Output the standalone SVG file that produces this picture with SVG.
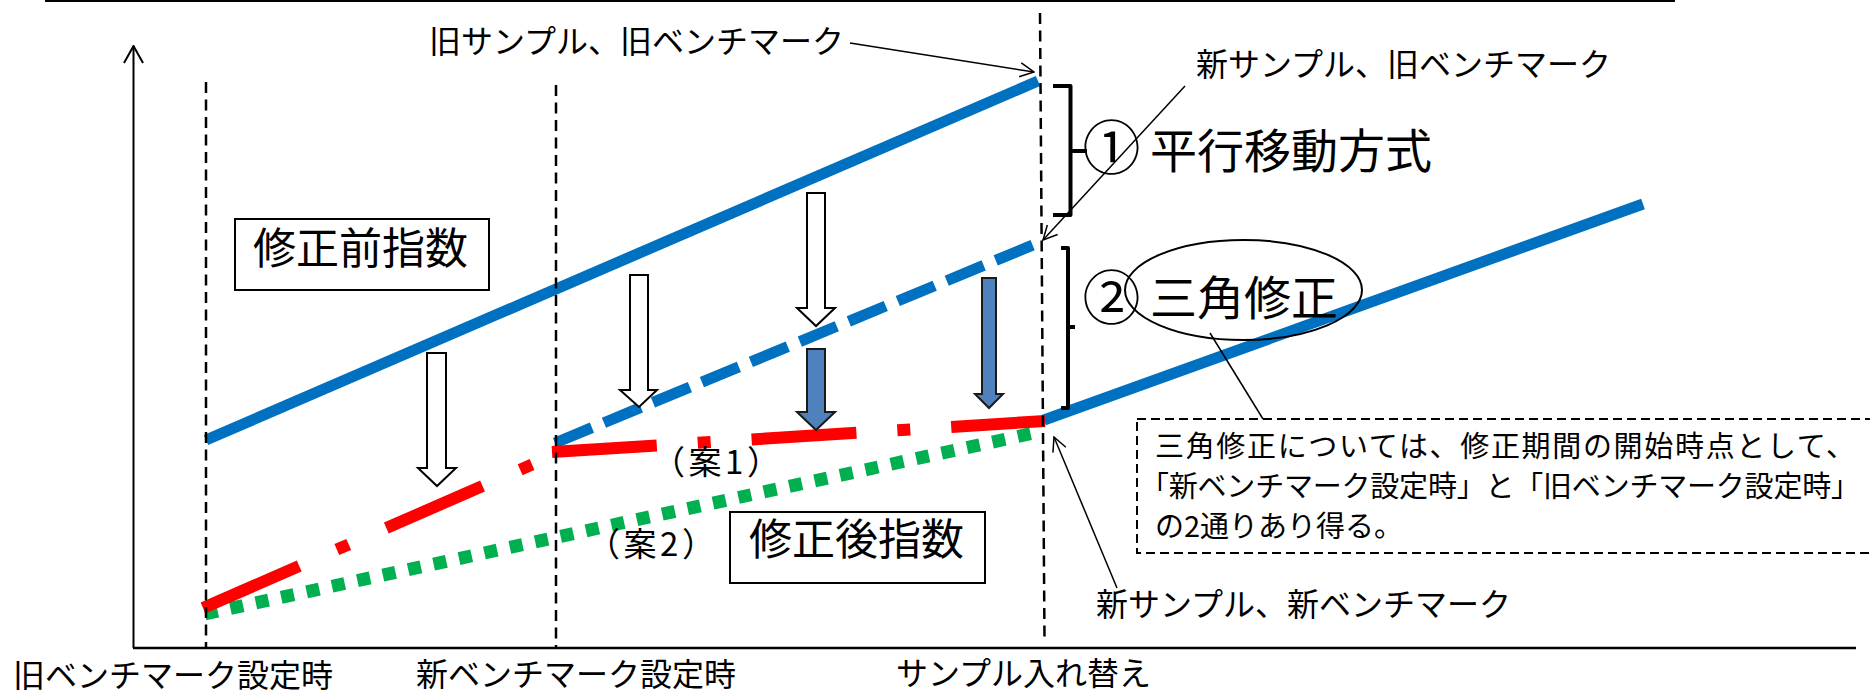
<svg xmlns="http://www.w3.org/2000/svg" width="1870" height="694" viewBox="0 0 1870 694">
<style>
.t{font-family:"Noto Sans CJK JP","Noto Sans",sans-serif;fill:#000}
.s{font-size:32px}
.m{font-size:43px}
.b{font-size:47px}
.n{font-size:29px}
.ax{stroke:#000;stroke-width:2;fill:none}
.vd{stroke:#000;stroke-width:2.5;stroke-dasharray:11 6.5;fill:none}
.ld{stroke:#000;stroke-width:1.5;fill:none}
.blue{stroke:#0070C0;stroke-width:11;fill:none}
.red{stroke:#FF0000;stroke-width:12;stroke-dasharray:105 41 13 41;fill:none}
.green{stroke:#00B050;stroke-width:13;stroke-dasharray:13 13;fill:none}
.box{fill:#fff;stroke:#000;stroke-width:2}
.ha{fill:#fff;stroke:#000;stroke-width:2}
.fa{fill:#4F81BD;stroke:#1a1a1a;stroke-width:2}
.br{stroke:#000;stroke-width:4;fill:none;stroke-linejoin:round}
</style>
<defs>
<marker id="open" viewBox="0 0 16 16" refX="15" refY="8" markerWidth="16" markerHeight="16" markerUnits="userSpaceOnUse" orient="auto">
<path d="M1,1 L15,8 L1,15" fill="none" stroke="#000" stroke-width="1.5"/>
</marker>
<marker id="axarrow" viewBox="0 0 19 21" refX="18" refY="10.5" markerWidth="19" markerHeight="21" markerUnits="userSpaceOnUse" orient="auto">
<path d="M1,1 L18,10.5 L1,20" fill="none" stroke="#000" stroke-width="2"/>
</marker>
</defs>

<g id="frame">
<line class="ax" x1="45" y1="1" x2="1675" y2="1"/>
<line class="ax" x1="133.5" y1="648" x2="133.5" y2="46" marker-end="url(#axarrow)"/>
<line x1="133" y1="648" x2="1856" y2="648" stroke="#000" stroke-width="2.5"/>
</g>

<g id="series">
<line class="blue" x1="206" y1="440" x2="1038" y2="81"/>
<line class="blue" x1="555" y1="443" x2="1033" y2="245" stroke-dasharray="40 13"/>
<line class="blue" x1="1044" y1="420" x2="1643" y2="204"/>
<line class="green" x1="205" y1="614" x2="1043" y2="431"/>
<line class="red" x1="203" y1="608" x2="556" y2="454"/>
<line class="red" x1="552" y1="452" x2="1045" y2="421"/>
</g>

<g id="guides">
<line class="vd" x1="206" y1="82" x2="206" y2="648"/>
<line class="vd" x1="556" y1="85" x2="556" y2="648"/>
<line class="vd" x1="1040" y1="13" x2="1044.5" y2="640"/>
</g>

<g id="shift-arrows">
<polygon class="ha" points="807,193 825,193 825,308 835,308 816,326 797,308 807,308"/>
<polygon class="ha" points="630,275 648,275 648,390 657,390 639,407 620,390 630,390"/>
<polygon class="ha" points="427,353 446,353 446,468 456,468 437,486 418,468 427,468"/>
<polygon class="fa" points="807,349 825,349 825,412 835,412 816,430 797,412 807,412"/>
<polygon class="fa" points="982,278 996,278 996,394 1003,394 989,408 975,394 982,394"/>
</g>

<g id="connectors">
<line class="ld" x1="850" y1="43" x2="1034" y2="72" marker-end="url(#open)"/>
<line class="ld" x1="1185" y1="86" x2="1043" y2="240" marker-end="url(#open)"/>
<line class="ld" x1="1117" y1="588" x2="1054" y2="437" marker-end="url(#open)"/>
<line class="ld" x1="1210" y1="333" x2="1263" y2="419"/>
</g>

<g id="bracket-1">
<path class="br" d="M1053,86 L1070.5,86 L1070.5,215 L1053,215 M1070.5,151 L1087,151"/>
</g>
<g id="bracket-2">
<path class="br" d="M1061,248 L1068,248 L1068,408 L1061,408 M1068,327 L1075,327"/>
</g>

<g id="label-old-old">
<text class="t s" x="429" y="53">旧サンプル、旧ベンチマーク</text>
</g>
<g id="label-new-old">
<text class="t s" x="1196" y="76">新サンプル、旧ベンチマーク</text>
</g>
<g id="label-new-new">
<text class="t s" x="1096" y="616">新サンプル、新ベンチマーク</text>
</g>

<g id="method-1">
<text class="t" x="1111.5" y="169" font-size="58" text-anchor="middle">①</text>
<text class="t b" x="1150" y="168">平行移動方式</text>
</g>
<g id="method-2">
<text class="t" x="1111.5" y="319" font-size="58" text-anchor="middle">②</text>
<ellipse cx="1243.5" cy="290" rx="118.5" ry="50" fill="none" stroke="#000" stroke-width="2"/>
<text class="t b" x="1150" y="315">三角修正</text>
</g>

<g id="before-index">
<rect class="box" x="235" y="219" width="254" height="71"/>
<text class="t m" x="253" y="264">修正前指数</text>
</g>
<g id="after-index">
<rect class="box" x="730" y="512" width="255" height="71"/>
<text class="t m" x="749" y="555">修正後指数</text>
</g>

<g id="plan-1">
<text class="t" x="652" y="474" font-size="33" textLength="128">（案1）</text>
</g>
<g id="plan-2">
<text class="t" x="587" y="556" font-size="33" textLength="128">（案2）</text>
</g>

<g id="note">
<rect x="1137" y="419" width="740" height="134" fill="none" stroke="#000" stroke-width="2" stroke-dasharray="9 5"/>
<text class="t n" x="1155" y="457" textLength="700">三角修正については、修正期間の開始時点として、</text>
<text class="t n" x="1140" y="497" textLength="720">「新ベンチマーク設定時」と「旧ベンチマーク設定時」</text>
<text class="t n" x="1155" y="537">の2通りあり得る。</text>
</g>

<g id="axis-labels">
<text class="t s" x="13" y="687">旧ベンチマーク設定時</text>
<text class="t s" x="416" y="686">新ベンチマーク設定時</text>
<text class="t s" x="896" y="685">サンプル入れ替え</text>
</g>
</svg>
